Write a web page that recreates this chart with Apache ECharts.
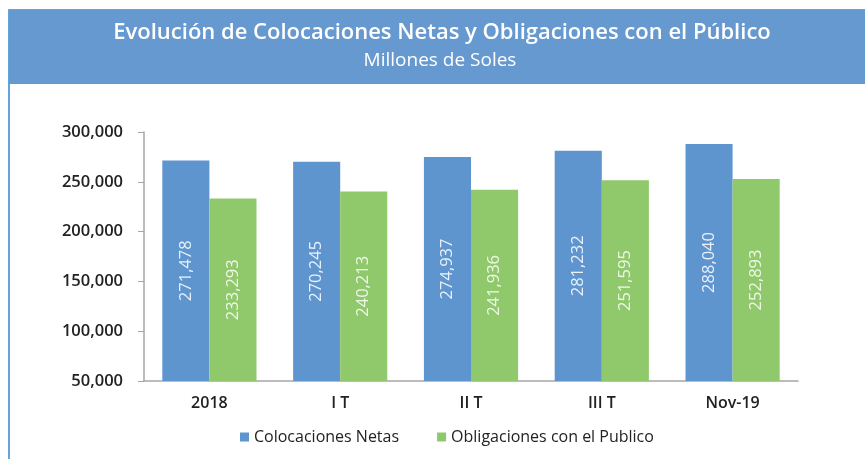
<!DOCTYPE html>
<html lang="es">
<head>
    <meta charset="UTF-8">
    <title>Colocaciones y Obligaciones</title>
    <script src="https://cdn.jsdelivr.net/npm/echarts@6/dist/echarts.min.js"></script>
    <style>
        html, body { margin: 0; padding: 0; background: #fff; }
        #main { width: 865px; height: 459px; }
    </style>
</head>
<body>
<div id="main"></div>
<script>
    // datos del grafico
    var categorias = ['2018', 'I T', 'II T', 'III T', 'Nov-19'];
    var colocaciones = [271478, 270245, 274937, 281232, 288040];
    var obligaciones = [233293, 240213, 241936, 251595, 252893];
    var nombres = ['Colocaciones Netas', 'Obligaciones con el Publico'];

    function miles(v) {
        return String(v).replace(/\B(?=(\d{3})+(?!\d))/g, ',');
    }

    var myChart = echarts.init(document.getElementById('main'));
    var option = {
        animation: false,
        textStyle: { fontFamily: 'Open Sans' },
        color: ['#5f95cf', '#8fc96b'],
        graphic: [
            {
                type: 'rect',
                shape: { x: 9, y: 10, width: 860, height: 460 },
                style: { fill: '#fff', stroke: '#2f86cf', lineWidth: 1.5 },
                z: -10
            },
            {
                type: 'rect',
                shape: { x: 9, y: 10, width: 860, height: 74 },
                style: { fill: '#6699cf' },
                z: -5
            },
            {
                type: 'text',
                x: 442, y: 33,
                style: {
                    text: 'Evolución de Colocaciones Netas y Obligaciones con el Público',
                    fill: '#fff', font: '600 22px "Open Sans"',
                    align: 'center', verticalAlign: 'middle'
                }
            },
            {
                type: 'text',
                x: 440, y: 61,
                style: {
                    text: 'Millones de Soles',
                    fill: '#fff', font: '19px "Open Sans"',
                    align: 'center', verticalAlign: 'middle'
                }
            }
        ],
        legend: {
            data: nombres,
            bottom: 9,
            left: 235,
            itemWidth: 9,
            itemHeight: 9,
            itemGap: 38,
            icon: 'rect',
            textStyle: { fontSize: 16, color: '#222' }
        },
        grid: { left: 144, right: 67, top: 132, bottom: 78 },
        xAxis: {
            type: 'category',
            data: categorias,
            axisLine: { lineStyle: { color: '#a6a6a6', width: 1.5 } },
            axisTick: { show: false },
            axisLabel: { fontSize: 16, fontWeight: 600, color: '#222', margin: 14 }
        },
        yAxis: {
            type: 'value',
            min: 50000,
            max: 300000,
            interval: 50000,
            axisLine: { show: true, lineStyle: { color: '#a6a6a6', width: 1.5 } },
            axisTick: { show: true, length: 6, lineStyle: { color: '#a6a6a6' } },
            splitLine: { show: false },
            axisLabel: {
                fontSize: 16.5, fontWeight: 600, color: '#222', margin: 21,
                formatter: miles
            }
        },
        series: [
            {
                name: nombres[0],
                type: 'bar',
                data: colocaciones,
                barGap: '0%',
                barCategoryGap: '28%',
                label: {
                    show: true, position: 'inside', rotate: 90,
                    color: '#e8f0fa', fontSize: 16.5,
                    formatter: function (p) { return miles(p.value); }
                }
            },
            {
                name: nombres[1],
                type: 'bar',
                data: obligaciones,
                label: {
                    show: true, position: 'inside', rotate: 90,
                    color: '#eef7e6', fontSize: 16.5,
                    formatter: function (p) { return miles(p.value); }
                }
            }
        ]
    };
    myChart.setOption(option);
</script>
</body>
</html>
